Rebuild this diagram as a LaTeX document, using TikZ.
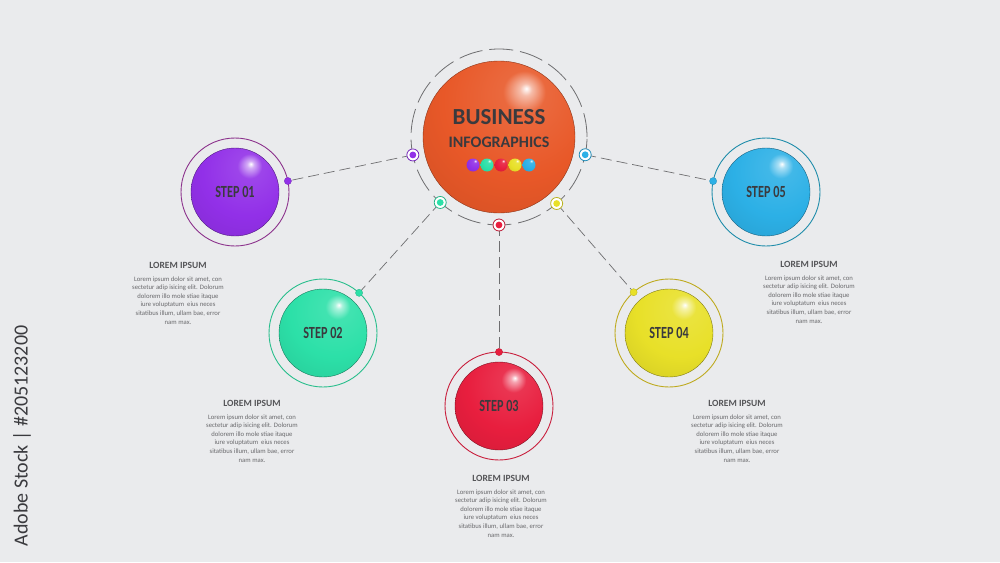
\documentclass[tikz,border=0pt]{standalone}
\usepackage{fontspec}
\setmainfont{Carlito}
\usetikzlibrary{positioning,calc}

\definecolor{bgcol}{RGB}{234,235,237}
\definecolor{hubcol}{RGB}{232,88,40}
\definecolor{stepA}{RGB}{146,48,232}
\definecolor{stepB}{RGB}{44,224,168}
\definecolor{stepC}{RGB}{232,30,62}
\definecolor{stepD}{RGB}{232,224,40}
\definecolor{stepE}{RGB}{44,176,230}
\definecolor{ringA}{RGB}{140,50,140}
\definecolor{ringB}{RGB}{40,190,140}
\definecolor{ringC}{RGB}{200,30,60}
\definecolor{ringD}{RGB}{190,170,30}
\definecolor{ringE}{RGB}{30,140,170}
\definecolor{inkcol}{RGB}{58,58,62}
\definecolor{headcol}{RGB}{85,85,88}
\definecolor{paracol}{RGB}{105,105,108}
\definecolor{dashcol}{RGB}{110,110,112}

\colorlet{glosscol}{gray}
\pgfdeclareradialshading[glosscol]{gloss}{\pgfqpoint{9bp}{16bp}}{%
  color(0bp)=(white);
  color(2bp)=(glosscol!40!white);
  color(7bp)=(glosscol!90!white);
  color(25bp)=(glosscol);
  color(55bp)=(glosscol!85!black);
  color(90bp)=(glosscol!70!black)}

\newcommand*{\Narrow}[1]{\scalebox{0.72}[1]{#1}}
\newcommand*{\LoremText}{Lorem ipsum dolor sit amet, con\\sectetur adip isicing elit. Dolorum\\dolorem illo mole stiae itaque\\iure voluptatum\ \ eius neces\\sitatibus illum, ullam bae, error\\nam max.}

\tikzset{
  sphere/.style={circle, inner sep=0pt, shade, shading=gloss,
    /utils/exec={\colorlet{glosscol}{#1}}},
  steplabel/.style={text=inkcol, font=\bfseries\fontsize{17}{17}\selectfont},
  head/.style={anchor=base, inner sep=0pt, text=headcol,
    font=\bfseries\fontsize{9.5}{11}\selectfont},
  para/.style={inner sep=0pt, align=center, text=paracol,
    font=\fontsize{6.7}{8.6}\selectfont},
  link/.style={draw=dashcol, line width=0.7pt, dash pattern=on 11pt off 5pt},
}

\begin{document}
\begin{tikzpicture}[x=1pt, y=-1pt]
    \fill[bgcol] (0,0) rectangle (1000,562);
    \useasboundingbox (0,0) rectangle (1000,562);

    % centre
    \coordinate (hub) at (499,137);
    \draw[dashcol, line width=0.8pt, dash pattern=on 24pt off 7pt] (hub) circle[radius=88pt];

    % steps
    \foreach \n/\px/\py/\col/\rc in {1/235/192/stepA/ringA, 2/323/333/stepB/ringB,
        3/499/406/stepC/ringC, 4/669/333/stepD/ringD, 5/766/192/stepE/ringE}{
        \draw[\rc, line width=0.9pt] (\px,\py) circle[radius=54pt];
        \node[sphere=\col, minimum size=88pt, draw=\col!55!black, line width=0.4pt,
            steplabel] (s\n) at (\px,\py) {\Narrow{STEP 0\n}};
        \coordinate (m\n) at ($(hub)!88pt!(s\n.center)$);
        \coordinate (d\n) at ($(s\n.center)!54pt!(hub)$);
        \draw[link] (m\n) -- (d\n);
        \fill[white, draw=\col!80!black, line width=0.8pt] (m\n) circle[radius=6pt];
        \fill[\col] (m\n) circle[radius=3.4pt];
        \fill[\col, draw=\col!80!black, line width=0.3pt] (d\n) circle[radius=3.6pt];
    }

    \node[sphere=hubcol, minimum size=152pt, draw=hubcol!60!black, line width=0.4pt] (ball) at (hub) {};
    \node[anchor=base, text=inkcol, font=\bfseries\fontsize{23}{23}\selectfont] (title) at (499,124) {BUSINESS};
    \node[anchor=base, text=inkcol, font=\bfseries\fontsize{16}{16}\selectfont] (subtitle) at (499,147) {INFOGRAPHICS};
    \foreach \c [count=\i] in {stepA,stepB,stepC,stepD,stepE}
        \node[sphere=\c, minimum size=13pt] (b\i) at (459+14*\i,165) {};

    % text blocks
    \foreach \n/\hx/\hy in {1/178/268, 2/252/406, 3/501/481, 4/737/406, 5/809/267}{
        \node[head] (h\n) at (\hx,\hy) {LOREM IPSUM};
        \node[para, below=8pt of h\n] (p\n) {\LoremText};
    }

    \node[rotate=90, text=inkcol, font=\fontsize{20}{20}\selectfont] (stamp) at (22,436) {Adobe Stock | \#205123200};
\end{tikzpicture}
\end{document}
